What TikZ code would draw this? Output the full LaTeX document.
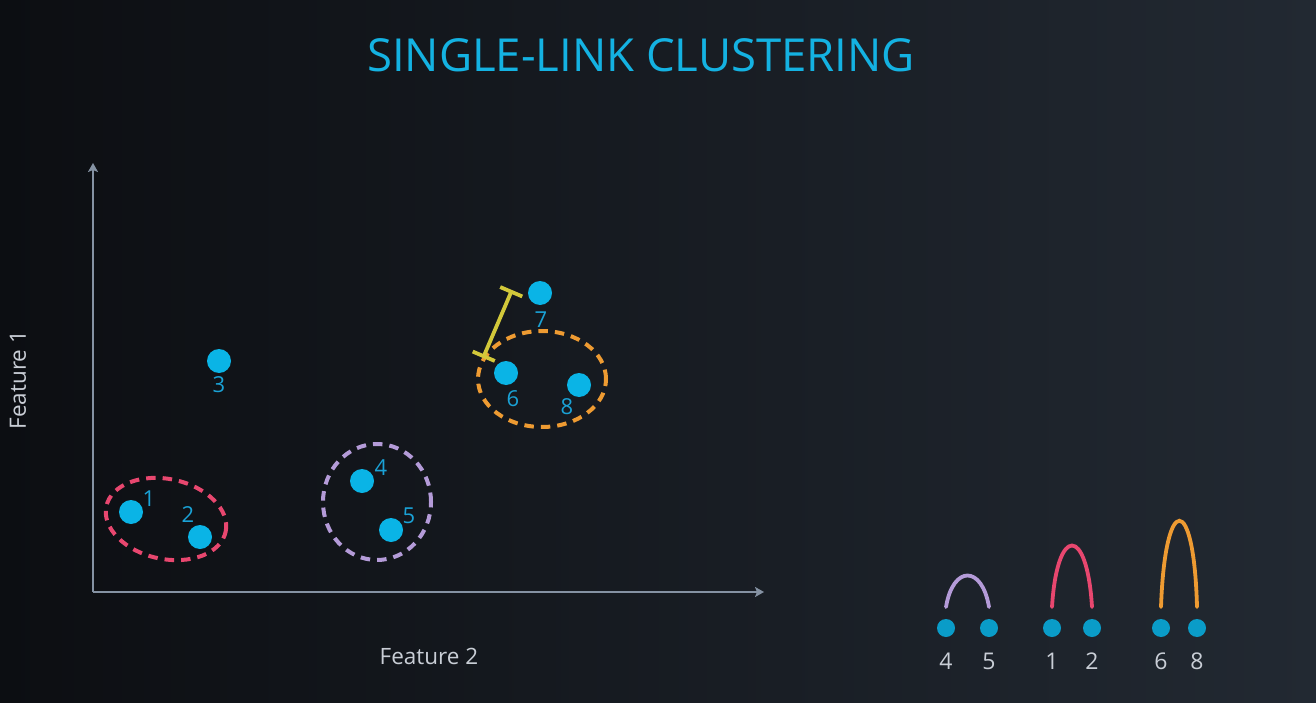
\documentclass[tikz,border=0pt]{standalone}
\usepackage{fontspec}
\setmainfont{Open Sans}
\usetikzlibrary{arrows.meta,calc}
\definecolor{bgL}{HTML}{0C0E12}
\definecolor{bgR}{HTML}{222932}
\definecolor{dotc}{HTML}{0AB4E6}
\definecolor{labc}{HTML}{1AA2D6}
\definecolor{titc}{HTML}{14B2E2}
\definecolor{axc}{HTML}{8592A3}
\definecolor{txtc}{HTML}{C9CED6}
\definecolor{redc}{HTML}{E8476F}
\definecolor{purc}{HTML}{B49BD8}
\definecolor{orac}{HTML}{EE9B32}
\definecolor{yelc}{HTML}{D2C83A}
\definecolor{dendc}{HTML}{0A9CC8}
\tikzset{
  dot/.style={circle,fill=dotc,minimum size=24pt,inner sep=0pt},
  ddot/.style={circle,fill=dendc,minimum size=18pt,inner sep=0pt},
  lab/.style={text=labc,font=\fontsize{22}{22}\selectfont,inner sep=0pt},
  dlab/.style={text=txtc,font=\fontsize{23}{23}\selectfont,inner sep=0pt},
  axis/.style={draw=axc,line width=1.8pt,-{Stealth[length=9pt,width=10pt,inset=2pt]}},
  clus/.style={line width=4pt,dash pattern=on 9.5pt off 7pt},
  arc/.style={line width=3.8pt,line cap=round}
}
\begin{document}
\begin{tikzpicture}[x=1pt,y=-1pt]
\useasboundingbox (0,0) rectangle (1316,703);
\shade[left color=bgL,right color=bgR] (0,0) rectangle (1316,703);
% title
\node[text=titc,font=\fontsize{45.5}{45.5}\selectfont,inner sep=0pt] (title) at (641,55) {SINGLE-LINK CLUSTERING};
% axes
\coordinate (o) at (93,592);
\coordinate (ytop) at (93,163);
\coordinate (xend) at (764,592);
\draw[axis] (o) -- (ytop);
\draw[axis] (o) -- (xend);
\node[text=txtc,font=\fontsize{22.5}{22.5}\selectfont,inner sep=0pt] (xl) at (429,656) {Feature 2};
\node[text=txtc,font=\fontsize{22.5}{22.5}\selectfont,inner sep=0pt,rotate=90] (yl) at (18,380) {Feature 1};
% clusters
\draw[clus,redc,rotate around={-12:(166,519)}] (166,519) ellipse (61pt and 40pt);
\draw[clus,purc] (377,502) ellipse (54pt and 58pt);
\draw[clus,orac] (542,379) ellipse (64pt and 48pt);
% yellow link
\coordinate (ya) at (512,290);
\coordinate (yb) at (483,358);
\draw[yelc,line width=3.8pt,{Bar[width=24pt,line width=3.8pt]}-{Bar[width=24pt,line width=3.8pt]}] (ya) -- (yb);
% points
\node[dot] (d1) at (131,512) {};
\node[dot] (d2) at (200,537) {};
\node[dot] (d3) at (219,361) {};
\node[dot] (d4) at (362,481) {};
\node[dot] (d5) at (391,530) {};
\node[dot] (d6) at (506,373) {};
\node[dot] (d7) at (540,293) {};
\node[dot] (d8) at (579,385) {};
\node[lab] (l1) at (149,499) {1};
\node[lab] (l2) at (188,515) {2};
\node[lab] (l3) at (219,385) {3};
\node[lab] (l4) at (381,468) {4};
\node[lab] (l5) at (409,516) {5};
\node[lab] (l6) at (513,399) {6};
\node[lab] (l7) at (541,320) {7};
\node[lab] (l8) at (567,407) {8};
% dendrogram
\node[ddot] (e4) at (946,628) {};
\node[ddot] (e5) at (989,628) {};
\node[ddot] (e1) at (1052,628) {};
\node[ddot] (e2) at (1092,628) {};
\node[ddot] (e6) at (1161,628) {};
\node[ddot] (e8) at (1197,628) {};
\node[dlab] (f4) at (946,661) {4};
\node[dlab] (f5) at (989,661) {5};
\node[dlab] (f1) at (1052,661) {1};
\node[dlab] (f2) at (1092,661) {2};
\node[dlab] (f6) at (1161,661) {6};
\node[dlab] (f8) at (1197,661) {8};
\draw[arc,purc] ([yshift=21pt]e4.center) .. controls (953,565) and (982,565) .. ([yshift=21pt]e5.center);
\draw[arc,redc] ([yshift=21pt]e1.center) .. controls (1057,525) and (1087,525) .. ([yshift=21pt]e2.center);
\draw[arc,orac] ([yshift=21pt]e6.center) .. controls (1165,492) and (1194,492) .. ([yshift=21pt]e8.center);
\end{tikzpicture}
\end{document}
